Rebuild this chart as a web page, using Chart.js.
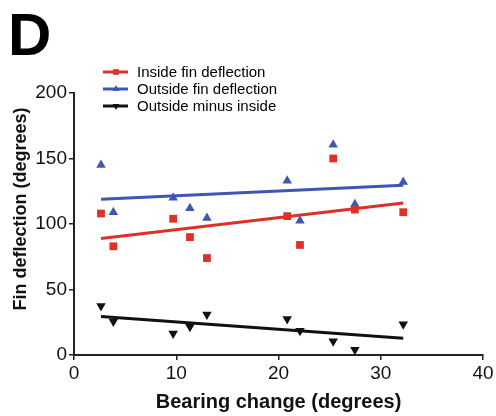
<!DOCTYPE html>
<html>
<head>
<meta charset="utf-8">
<script src="https://cdn.jsdelivr.net/npm/chart.js@4/dist/chart.umd.min.js"></script>
<style>
  html, body { margin: 0; padding: 0; background: #fff; }
  #wrap { position: relative; width: 496px; height: 416px; }
</style>
</head>
<body>
<div id="wrap"><canvas id="chart-fins" width="496" height="416"></canvas></div>
<script>
// Bearing change (degrees) per turn
const bearing = [2.64, 3.85, 9.7, 11.34, 13.0, 20.85, 22.1, 25.35, 27.47, 32.2];
const insideFin = [108, 83, 104, 90, 74, 106, 84, 150, 111, 109];
const outsideFin = [145, 109, 120, 112, 104.5, 133, 102.5, 160.5, 115, 132];
const outsideMinusInside = [37.5, 25.5, 16.5, 21.5, 31, 27.5, 18.5, 10.5, 4, 23.5];

// regression lines, endpoints
const fitX = [2.64, 32.2];
const insideFit = [89, 116];
const outsideFit = [118.8, 129.5];
const diffFit = [29.3, 12.7];

const xTicks = [0, 10, 20, 30, 40];
const yTicks = [0, 50, 100, 150, 200];

const COLORS = {
  red:   '#dd3128',
  blue:  '#3f57b3',
  black: '#111111',
  axis:  '#222222',
};

const FONT = 'Arial, "Liberation Sans", Helvetica, sans-serif';

function pts(xs, ys) {
  return xs.map((x, i) => ({ x, y: ys[i] }));
}

const series = [
  { label: 'Inside fin deflection',  ys: insideFin,          fit: insideFit,  color: COLORS.red,   style: 'rect',     rot: 0 },
  { label: 'Outside fin deflection', ys: outsideFin,         fit: outsideFit, color: COLORS.blue,  style: 'triangle', rot: 0 },
  { label: 'Outside minus inside',   ys: outsideMinusInside, fit: diffFit,    color: COLORS.black, style: 'triangle', rot: 180 },
];

const datasets = [];
series.forEach(s => {
  datasets.push({
    label: s.label,
    data: pts(bearing, s.ys),
    showLine: false,
    pointStyle: s.style,
    rotation: s.rot,
    pointRadius: 5.5,
    backgroundColor: s.color,
    borderColor: s.color,
    borderWidth: 0,
  });
});
series.forEach(s => {
  datasets.push({
    label: s.label + ' fit',
    data: pts(fitX, s.fit),
    showLine: true,
    pointRadius: 0,
    borderColor: s.color,
    borderWidth: 3,
    fill: false,
  });
});

// Panel letter and stacked legend at top left
const panelLegend = {
  id: 'panelLegend',
  afterDraw(chart) {
    const ctx = chart.ctx;
    ctx.save();
    ctx.fillStyle = '#000';
    ctx.font = 'bold 60px ' + FONT;
    ctx.textAlign = 'left';
    ctx.textBaseline = 'alphabetic';
    ctx.fillText('D', 8, 55);

    ctx.font = '15px ' + FONT;
    ctx.textBaseline = 'middle';
    series.forEach((s, i) => {
      const y = 72 + i * 17;
      ctx.strokeStyle = s.color;
      ctx.lineWidth = 3;
      ctx.beginPath();
      ctx.moveTo(103, y);
      ctx.lineTo(128, y);
      ctx.stroke();
      ctx.fillStyle = s.color;
      Chart.helpers.drawPoint(ctx, { pointStyle: s.style, rotation: s.rot, radius: 4, borderWidth: 0 }, 116, y);
      ctx.fillStyle = '#000';
      ctx.fillText(s.label, 137, y + 1);
    });
    ctx.restore();
  },
};

new Chart(document.getElementById('chart-fins').getContext('2d'), {
  type: 'scatter',
  data: { datasets },
  options: {
    responsive: false,
    animation: false,
    layout: { padding: { left: 0, right: 13, top: 93, bottom: 0 } },
    plugins: {
      legend: { display: false },
      tooltip: { enabled: false },
    },
    scales: {
      x: {
        type: 'linear',
        min: xTicks[0],
        max: xTicks[xTicks.length - 1],
        afterBuildTicks: axis => { axis.ticks = xTicks.map(v => ({ value: v })); },
        afterFit: axis => { axis.height = 61; },
        border: { color: COLORS.axis, width: 2 },
        grid: { drawOnChartArea: false, drawTicks: true, tickLength: 5, color: COLORS.axis, lineWidth: 1.5 },
        ticks: { color: '#111', padding: 2, font: { family: FONT, size: 19 } },
        title: {
          display: true,
          text: 'Bearing change (degrees)',
          color: '#111',
          padding: { top: 0, bottom: 2 },
          font: { family: FONT, size: 20, weight: 'bold' },
        },
      },
      y: {
        type: 'linear',
        min: yTicks[0],
        max: yTicks[yTicks.length - 1],
        afterBuildTicks: axis => { axis.ticks = yTicks.map(v => ({ value: v })); },
        afterFit: axis => { axis.width = 74; },
        border: { color: COLORS.axis, width: 2 },
        grid: { drawOnChartArea: false, drawTicks: true, tickLength: 5, color: COLORS.axis, lineWidth: 1.5 },
        ticks: { color: '#111', padding: 2, font: { family: FONT, size: 19 } },
        title: {
          display: true,
          // leading spaces nudge the title up, as in the original figure
          text: '      Fin deflection (degrees)',
          color: '#111',
          padding: { top: 10, bottom: 0 },
          font: { family: FONT, size: 18, weight: 'bold' },
        },
      },
    },
  },
  plugins: [panelLegend],
});
</script>
</body>
</html>
